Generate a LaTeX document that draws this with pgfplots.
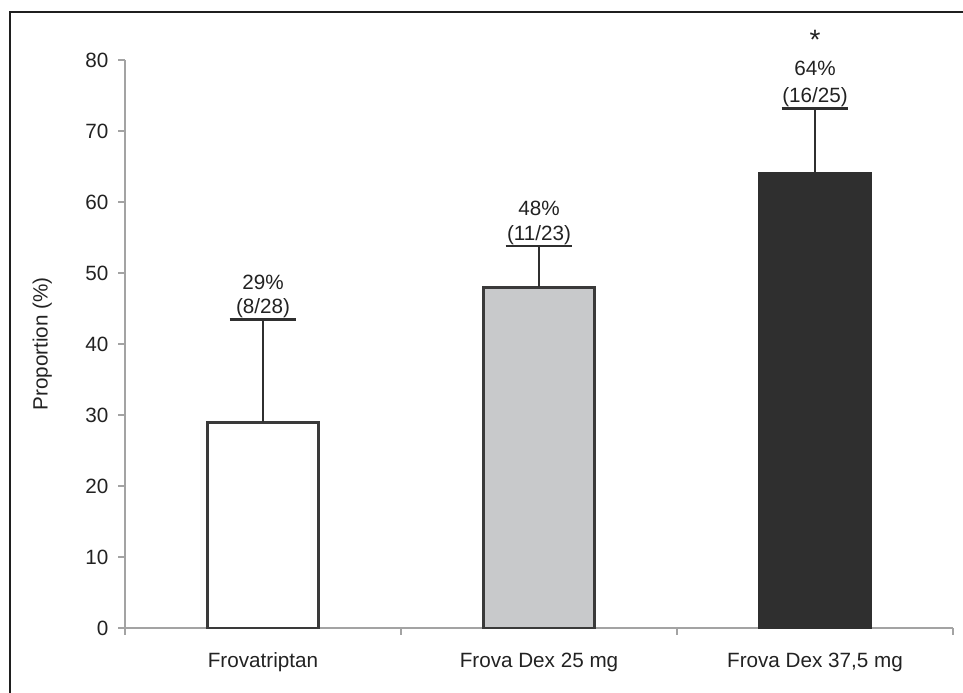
\documentclass[border=0pt]{standalone}
\usepackage{pgfplots}
\pgfplotsset{compat=1.18}
\usepackage{fontspec}
\setmainfont{Liberation Sans}
\definecolor{edge}{HTML}{3A3A3A}
\definecolor{midgray}{HTML}{C8C9CB}
\definecolor{darkbar}{HTML}{2F2F2F}
\definecolor{axisgray}{HTML}{A3A3A3}
\definecolor{txt}{HTML}{222222}
\begin{document}
\begin{tikzpicture}
\useasboundingbox (-93.75pt,-48pt) rectangle (628.5pt,471pt);
\draw[line width=1.6pt, black!88] (-86.25pt,-80pt) -- (-86.25pt,462pt) -- (660pt,462pt);
\begin{axis}[
  at={(0,0)}, anchor=south west,
  scale only axis, width=621pt, height=426pt,
  xmin=-0.5, xmax=2.5, ymin=0, ymax=80,
  axis x line*=bottom, axis y line*=left,
  axis line style={axisgray, line width=1.5pt, -},
  ytick={0,10,...,80},
  xtick={-0.5,0.5,1.5,2.5},
  x tick label as interval,
  xticklabels={Frovatriptan,Frova Dex 25 mg,{Frova Dex 37,5 mg}},
  tick align=outside, major tick length=5pt,
  tick style={axisgray, line width=1.5pt},
  /pgf/number format/assume math mode=true,
  ticklabel style={font=\fontsize{15.5}{18}\selectfont, text=txt},
  xticklabel style={yshift=-10pt},
  yticklabel style={xshift=-4pt},
  clip=false,
  error bars/y dir=plus, error bars/y explicit,
  error bars/error bar style={line width=2.1pt, color=darkbar},
  error bars/error mark options={rotate=90, line width=2.1pt, color=darkbar, mark size=25pt},
]
\addplot[ybar, bar shift=0pt, bar width=0.4, draw=edge, line width=2.1pt, fill=white]
  coordinates {(0,29) +- (0,14.5)};
\addplot[ybar, bar shift=0pt, bar width=0.4, draw=edge, line width=2.1pt, fill=midgray]
  coordinates {(1,48) +- (0,5.8)};
\addplot[ybar, bar shift=0pt, bar width=0.4, draw=darkbar, line width=2.1pt, fill=darkbar]
  coordinates {(2,64) +- (0,9.2)};
\node[anchor=south, align=center, inner sep=1pt, text=txt, font=\fontsize{15.5}{18}\selectfont] at (axis cs:0,43.5) {29\%\\(8/28)};
\node[anchor=south, align=center, inner sep=1pt, text=txt, font=\fontsize{15.5}{18.5}\selectfont] at (axis cs:1,53.8) {48\%\\(11/23)};
\node[anchor=south, align=center, inner sep=1pt, text=txt, font=\fontsize{15.5}{20}\selectfont] at (axis cs:2,73.2) {{\fontsize{21}{20}\selectfont *}\\64\%\\(16/25)};
\node[rotate=90, anchor=center, text=txt, font=\fontsize{15.5}{18}\selectfont] at ([xshift=-62pt]rel axis cs:0,0.5) {Proportion (\%)};
\end{axis}
\end{tikzpicture}
\end{document}
